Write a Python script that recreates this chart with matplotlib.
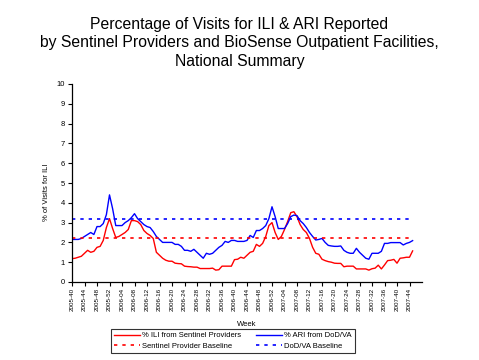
import matplotlib.pyplot as plt
import numpy as np
from matplotlib.lines import Line2D

plt.rcParams["font.family"] = ["Liberation Sans", "DejaVu Sans"]

# %% DATA
# weekly values, starting at 2005-40
ili_pct = [
    1.18, 1.2, 1.25, 1.3, 1.45, 1.6, 1.5, 1.55, 1.75, 1.8,
    2.1, 2.75, 3.2, 2.7, 2.25, 2.3, 2.4, 2.5, 2.65, 3.1,
    3.1, 3.05, 2.9, 2.6, 2.45, 2.35, 2.2, 1.5, 1.35, 1.2,
    1.1, 1.05, 1.05, 0.95, 0.93, 0.92, 0.8, 0.78, 0.77, 0.75,
    0.75, 0.68, 0.68, 0.68, 0.68, 0.7, 0.6, 0.62, 0.8, 0.8,
    0.8, 0.8, 1.13, 1.15, 1.25, 1.2, 1.35, 1.5, 1.55, 1.9,
    1.8, 1.95, 2.3, 2.85, 3.0, 2.5, 2.15, 2.3, 2.65, 3.05,
    3.5, 3.55, 3.3, 2.9, 2.65, 2.5, 2.2, 1.75, 1.45, 1.4,
    1.15, 1.08, 1.03, 1.0, 0.95, 0.94, 0.94, 0.77, 0.8, 0.8,
    0.8, 0.66, 0.66, 0.66, 0.66, 0.6, 0.67, 0.7, 0.85, 0.66,
    0.86, 1.08, 1.1, 1.14, 0.95, 1.2, 1.22, 1.25, 1.25, 1.57,
]
ari_pct = [
    2.15, 2.15, 2.15, 2.2, 2.3, 2.4, 2.5, 2.4, 2.8, 2.8,
    2.95, 3.4, 4.4, 3.7, 2.85, 2.85, 2.85, 3.0, 3.1, 3.25,
    3.45, 3.2, 3.05, 2.9, 2.8, 2.75, 2.55, 2.3, 2.15, 2.0,
    2.0, 2.0, 2.0, 1.9, 1.9, 1.8, 1.6, 1.6, 1.55, 1.65,
    1.5, 1.35, 1.2, 1.45, 1.4, 1.45, 1.6, 1.75, 1.85, 2.05,
    2.0, 2.1, 2.1, 2.05, 2.05, 2.05, 2.1, 2.35, 2.25, 2.6,
    2.6, 2.7, 2.85, 3.2, 3.8, 3.3, 2.7, 2.7, 2.7, 2.95,
    3.3, 3.38, 3.35, 3.1, 2.95, 2.75, 2.5, 2.3, 2.12, 2.15,
    2.2, 2.0, 1.85, 1.82, 1.8, 1.8, 1.82, 1.6, 1.5, 1.45,
    1.45, 1.7, 1.5, 1.35, 1.2, 1.15, 1.45, 1.45, 1.45, 1.55,
    1.95, 1.95, 1.99, 1.99, 1.99, 1.99, 1.87, 1.95, 2.0, 2.09,
]
ili_baseline = 2.2
ari_baseline = 3.2

# Week labels (year-week), 52 weeks per year
weeks = []
year, wk = 2005, 40
for _ in range(len(ili_pct)):
    weeks.append(f"{year}-{wk:02d}")
    wk += 1
    if wk > 52:
        year, wk = year + 1, 1

# %% PLOT
fig = plt.figure(figsize=(4.79, 3.6), dpi=100)
ax = fig.add_axes([72 / 479, 1 - 282 / 360, 350 / 479, 198 / 360])

x = np.arange(len(weeks))
ax.plot(x, ili_pct, color="red", lw=1)
ax.plot(x, ari_pct, color="blue", lw=1)
ax.plot([x[0], x[-1]], [ili_baseline] * 2, color="red", lw=1.2, ls=(0, (2, 3)))
ax.plot([x[0], x[-1]], [ari_baseline] * 2, color="blue", lw=1.2, ls=(0, (2, 3)))

ax.set_xlim(0, 112)
ax.set_ylim(0, 10)
ax.set_yticks(range(0, 11))
ax.set_xticks(x[::4])
ax.set_xticklabels(weeks[::4], rotation=90, fontsize=4.5)
ax.tick_params(axis="y", labelsize=5.5, length=3, width=0.8, pad=2)
ax.tick_params(axis="x", length=3, width=0.8, pad=1.5)

for side in ["top", "right"]:
    ax.spines[side].set_visible(False)
for side in ["left", "bottom"]:
    ax.spines[side].set_linewidth(0.9)

ax.set_ylabel("% of Visits for ILI", fontsize=5.5, labelpad=4)
ax.yaxis.set_label_coords(-0.064, 0.455)
fig.text(247 / 479, 1 - 325 / 360, "Week", ha="center", va="center", fontsize=5.5)

fig.text(
    0.5,
    1 - 43 / 360,
    "Percentage of Visits for ILI & ARI Reported\n"
    "by Sentinel Providers and BioSense Outpatient Facilities,\n"
    "National Summary",
    ha="center",
    va="center",
    fontsize=11.3,
    linespacing=1.28,
)

handles = [
    Line2D([], [], color="red", lw=1),
    Line2D([], [], color="red", lw=1.2, ls=(0, (2, 3))),
    Line2D([], [], color="blue", lw=1),
    Line2D([], [], color="blue", lw=1.2, ls=(0, (2, 3))),
]
labels = [
    "% ILI from Sentinel Providers",
    "Sentinel Provider Baseline",
    "% ARI from DoD/VA",
    "DoD/VA Baseline",
]
leg = fig.legend(
    handles,
    labels,
    ncol=2,
    loc="upper center",
    bbox_to_anchor=(233 / 479, 1 - 325 / 360),
    fontsize=5.5,
    frameon=True,
    fancybox=False,
    handlelength=3.3,
    columnspacing=2.0,
    borderpad=0.4,
    labelspacing=0.45,
    handletextpad=0.3,
)
leg.get_frame().set_edgecolor("black")
leg.get_frame().set_linewidth(0.8)

fig.savefig("out.png", dpi=100)
